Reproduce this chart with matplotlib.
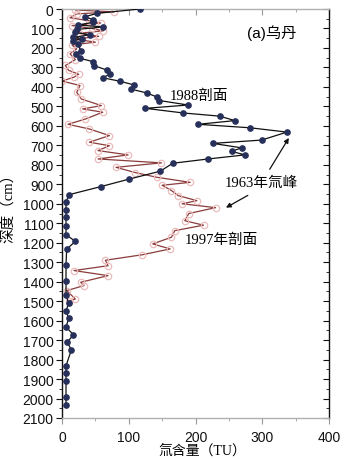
import matplotlib
matplotlib.use("Agg")
import matplotlib.pyplot as plt
import matplotlib.markers as mmarkers
from matplotlib.ticker import MultipleLocator

plt.rcParams['font.family'] = ['Liberation Sans', 'Noto Sans CJK SC', 'DejaVu Sans']

# 1988 profile (depth cm, tritium TU)
depth_1988 = [0, 22, 40, 55, 68, 82, 92, 105, 120, 132, 146, 152, 165, 182, 214, 231, 253,
              270, 291, 313, 334, 353, 371, 390, 411, 431, 453, 470, 493, 510, 534, 550,
              573, 592, 610, 632, 673, 690, 713, 731, 749, 770, 792, 833, 873, 912, 953,
              989, 1030, 1069, 1112, 1159, 1193, 1233, 1313, 1395, 1468, 1511, 1551, 1589,
              1633, 1672, 1711, 1751, 1832, 1871, 1911, 1992, 2033]
tu_1988 = [117, 53, 34, 47, 47, 24, 62, 22, 20, 42, 17, 30, 16, 24, 28, 21, 27,
           46, 48, 67, 72, 61, 87, 108, 103, 127, 143, 146, 189, 125, 182, 236,
           259, 204, 282, 337, 299, 226, 269, 254, 274, 219, 166, 147, 101, 58, 11,
           6, 6, 6, 6, 6, 20, 7, 6, 6, 6, 10, 6, 10,
           6, 17, 8, 14, 6, 6, 6, 6, 6]

# 1997 profile
depth_1997 = [5, 15, 25, 45, 60, 72, 85, 100, 112, 125, 140, 155, 170, 185, 205, 230, 260,
              290, 315, 335, 350, 370, 393, 428, 462, 496, 513, 530, 565, 592, 616, 650,
              684, 702, 727, 749, 770, 790, 813, 840, 864, 890, 905, 932, 958, 984, 1000,
              1020, 1050, 1087, 1110, 1138, 1172, 1206, 1232, 1262, 1290, 1318, 1343,
              1369, 1403, 1420, 1446, 1489, 1500]
tu_1997 = [20, 78, 22, 12, 40, 58, 15, 45, 62, 25, 55, 20, 50, 15, 22, 12, 20,
           5, 10, 25, 18, 0, 27, 22, 29, 59, 31, 61, 35, 9, 41, 71,
           41, 71, 54, 99, 54, 149, 81, 110, 142, 192, 150, 164, 174, 202, 180,
           230, 190, 184, 212, 169, 164, 136, 162, 120, 65, 69, 18,
           69, 28, 33, 7, 20, 10]

xticks = [0, 100, 200, 300, 400]
yticks = list(range(0, 2101, 100))

fig = plt.figure(figsize=(3.53, 4.60), dpi=100)
ax = fig.add_axes([62/353, 1-419/460, (329-62)/353, (419-10)/460])

ax.plot(tu_1997, depth_1997, '-', color='#8a3b3b', lw=0.9, marker='o', ms=4.6,
        mfc='none', mec='#ebbcbc', mew=0.9, zorder=2)
ax.plot(tu_1988, depth_1988, '-', color='#111111', lw=0.9, marker='o', ms=3.8,
        mfc='#27305a', mec='#27305a', zorder=3)

ax.set_xlim(0, 400)
ax.set_ylim(2100, 0)
ax.set_xticks(xticks)
ax.set_yticks(yticks)
ax.xaxis.set_minor_locator(MultipleLocator(50))
ax.yaxis.set_minor_locator(MultipleLocator(50))

for s in ['left', 'right']:
    ax.spines[s].set_color('#111111')
    ax.spines[s].set_linewidth(1.0)
for s in ['top', 'bottom']:
    ax.spines[s].set_color('#b0b0b0')
    ax.spines[s].set_linewidth(1.0)

ax.tick_params(axis='y', which='both', left=True, right=True, direction='out',
               labelsize=10, colors='#111111', pad=2)
ax.tick_params(axis='y', which='major', length=4)
ax.tick_params(axis='y', which='minor', length=2.5)
for t in ax.yaxis.get_major_ticks() + ax.yaxis.get_minor_ticks():
    t.tick2line.set_marker(mmarkers.TICKLEFT)
ax.tick_params(axis='x', which='both', bottom=True, top=True, direction='out',
               labelsize=10, colors='#999999', labelcolor='#111111', pad=5)
ax.tick_params(axis='x', which='major', length=4)
ax.tick_params(axis='x', which='minor', length=2.5)
for t in ax.xaxis.get_major_ticks() + ax.xaxis.get_minor_ticks():
    t.tick2line.set_marker(mmarkers.TICKDOWN)

serif = ['Liberation Serif', 'Noto Sans CJK SC']
fig.text(247/353, 1-33/460, '(a)乌丹', fontsize=11, va='center', ha='left',
         family=['Liberation Sans', 'Noto Sans CJK SC'])
fig.text(170/353, 1-96/460, '1988剖面', fontsize=10.5, va='center', ha='left', family=serif)
fig.text(225/353, 1-183/460, '1963年氚峰', fontsize=10.5, va='center', ha='left', family=serif)
fig.text(185/353, 1-240/460, '1997年剖面', fontsize=10.5, va='center', ha='left', family=serif)

ax.annotate('', xy=(342, 650), xytext=(309, 835),
            arrowprops=dict(arrowstyle='-|>', color='#111111', lw=0.9, mutation_scale=7))
ax.annotate('', xy=(242, 1027), xytext=(282, 950),
            arrowprops=dict(arrowstyle='-|>', color='#111111', lw=0.9, mutation_scale=7))

fig.text(202/353, 1-451/460, '氚含量（TU）', fontsize=10, va='center', ha='center', family=serif)
fig.text(9/353, 1-205/460, '深度（cm）', fontsize=10.5, va='center', ha='center',
         rotation=90, family=serif)

fig.savefig('out.png', dpi=100)
